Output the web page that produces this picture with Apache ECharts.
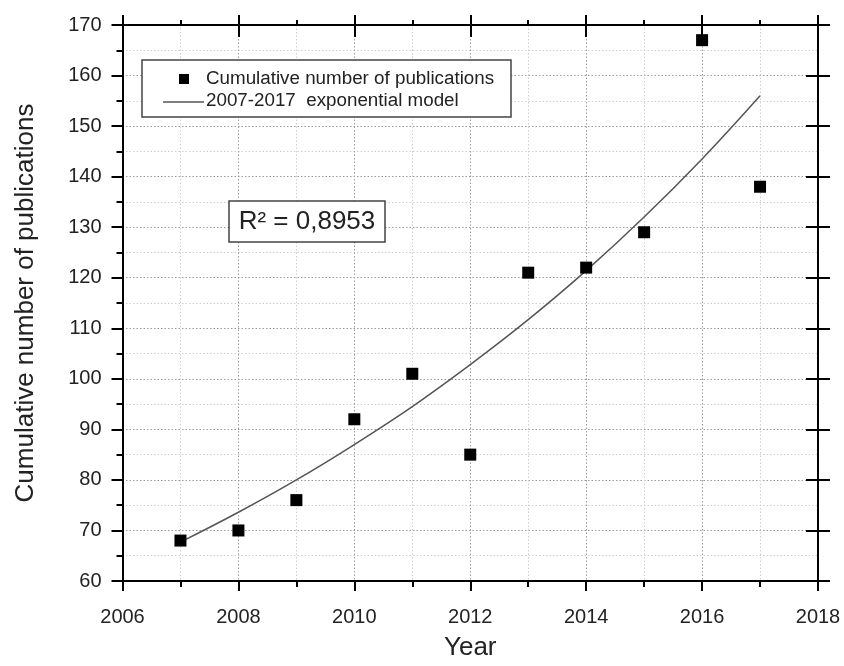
<!DOCTYPE html>
<html>
<head>
<meta charset="utf-8">
<script src="https://cdn.jsdelivr.net/npm/echarts@6/dist/echarts.min.js"></script>
<style>
html,body{margin:0;padding:0;background:#fff;}
#chart{width:844px;height:666px;}
</style>
</head>
<body>
<div id="chart"></div>
<script>
const years = [2007, 2008, 2009, 2010, 2011, 2012, 2013, 2014, 2015, 2016, 2017];
const publications = [68, 70, 76, 92, 101, 85, 121, 122, 129, 167, 138];
const modelValues = [67.7, 73.6, 80.0, 87.0, 94.5, 102.8, 111.7, 121.4, 132.0, 143.5, 156.0];
const seriesNames = ['Cumulative number of publications', '2007-2017  exponential model'];
const r2Text = 'R\u00B2 = 0,8953';
const xTitle = 'Year';
const yTitle = 'Cumulative number of publications';

const FONT = '"Liberation Sans", Arial, sans-serif';
const chart = echarts.init(document.getElementById('chart'), null, {renderer: 'canvas'});

const axisLineStyle = {color: '#000', width: 2};
const majorGrid = {show: true, lineStyle: {color: '#9a9a9a', width: 1, type: [1.5, 2]}};
const minorGrid = {show: true, lineStyle: {color: '#cfcfcf', width: 1, type: [1.5, 2]}};

function xAx(extra) {
  return Object.assign({
    type: 'value', min: 2006, max: 2018, interval: 2, gridIndex: 0,
    axisLine: {show: true, onZero: false, lineStyle: axisLineStyle},
    axisLabel: {show: false},
    splitLine: {show: false},
    minorSplitLine: {show: false},
    minorTick: {show: false}
  }, extra);
}
function yAx(extra) {
  return Object.assign({
    type: 'value', min: 60, max: 170, interval: 10, gridIndex: 0,
    axisLine: {show: true, onZero: false, lineStyle: axisLineStyle},
    axisLabel: {show: false},
    splitLine: {show: false},
    minorSplitLine: {show: false},
    minorTick: {show: false}
  }, extra);
}

const option = {
  backgroundColor: '#fff',
  animation: false,
  grid: {left: 122.5, right: 26, top: 25, bottom: 77.5, containLabel: false},
  xAxis: [
    xAx({
      position: 'bottom',
      name: xTitle, nameLocation: 'middle', nameGap: 54,
      nameTextStyle: {fontFamily: FONT, fontSize: 26, color: '#222'},
      axisTick: {show: true, inside: false, length: 10, lineStyle: {color: '#000', width: 2}},
      minorTick: {show: true, splitNumber: 2, length: 6, lineStyle: {color: '#000', width: 2}},
      axisLabel: {show: true, margin: 26, fontFamily: FONT, fontSize: 20, color: '#222',
        formatter: v => String(v)},
      splitLine: majorGrid,
      minorSplitLine: minorGrid
    }),
    xAx({
      position: 'top',
      axisTick: {show: true, inside: false, length: 10, lineStyle: {color: '#000', width: 2}},
      minorTick: {show: true, splitNumber: 2, length: 5, lineStyle: {color: '#000', width: 2}}
    }),
    xAx({
      position: 'top',
      axisLine: {show: false},
      axisTick: {show: true, inside: true, length: 12, lineStyle: {color: '#000', width: 2}}
    })
  ],
  yAxis: [
    yAx({
      position: 'left',
      name: yTitle, nameLocation: 'middle', nameGap: 84, nameRotate: 90,
      nameTextStyle: {fontFamily: FONT, fontSize: 26, color: '#222'},
      axisTick: {show: true, inside: false, length: 11, lineStyle: {color: '#000', width: 2}},
      minorTick: {show: true, splitNumber: 2, length: 6, lineStyle: {color: '#000', width: 2}},
      axisLabel: {show: true, margin: 21, fontFamily: FONT, fontSize: 20, color: '#222'},
      splitLine: majorGrid,
      minorSplitLine: minorGrid
    }),
    yAx({
      position: 'right',
      axisTick: {show: true, inside: false, length: 12, lineStyle: {color: '#000', width: 2}}
    }),
    yAx({
      position: 'right',
      axisLine: {show: false},
      axisTick: {show: true, inside: true, length: 12, lineStyle: {color: '#000', width: 2}}
    })
  ],
  series: [
    {
      name: seriesNames[1],
      type: 'line',
      xAxisIndex: 0, yAxisIndex: 0,
      data: years.map((y, i) => [y, modelValues[i]]),
      smooth: 0.4,
      showSymbol: false,
      symbol: 'none',
      lineStyle: {color: '#555', width: 1.5},
      z: 3
    },
    {
      name: seriesNames[0],
      type: 'scatter',
      xAxisIndex: 0, yAxisIndex: 0,
      data: years.map((y, i) => [y, publications[i]]),
      symbol: 'rect',
      symbolSize: 12,
      itemStyle: {color: '#000', opacity: 1},
      z: 4
    }
  ],
  graphic: [
    {type: 'rect', z: 100, shape: {x: 142, y: 60, width: 369, height: 57},
     style: {fill: '#fff', stroke: '#444', lineWidth: 1.5}},
    {type: 'rect', z: 101, shape: {x: 179, y: 74, width: 10, height: 10}, style: {fill: '#000'}},
    {type: 'line', z: 101, shape: {x1: 163, y1: 102, x2: 204, y2: 102}, style: {stroke: '#555', lineWidth: 1.5}},
    {type: 'text', z: 101, x: 206, y: 79,
     style: {text: seriesNames[0], font: '18.8px ' + FONT, fill: '#222', verticalAlign: 'middle', align: 'left'}},
    {type: 'text', z: 101, x: 206, y: 101,
     style: {text: seriesNames[1], font: '18.8px ' + FONT, fill: '#222', verticalAlign: 'middle', align: 'left'}},
    {type: 'rect', z: 100, shape: {x: 229, y: 201, width: 156, height: 41},
     style: {fill: '#fff', stroke: '#444', lineWidth: 1.5}},
    {type: 'text', z: 101, x: 307, y: 222,
     style: {text: r2Text, font: '26px ' + FONT, fill: '#222', verticalAlign: 'middle', align: 'center'}}
  ]
};
chart.setOption(option);
</script>
</body>
</html>
